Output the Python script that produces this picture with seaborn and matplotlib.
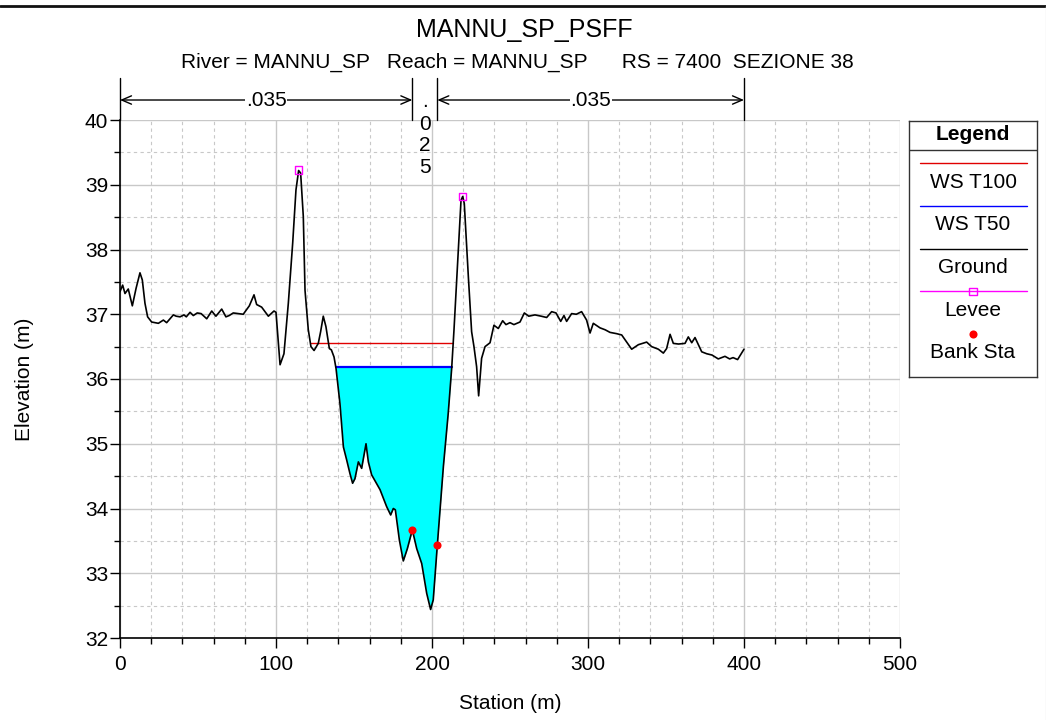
import numpy as np
import pandas as pd
import matplotlib
matplotlib.use("Agg")
import matplotlib.pyplot as plt
import matplotlib.transforms as mtransforms
from matplotlib.lines import Line2D
from matplotlib.ticker import MultipleLocator
import seaborn as sns

# Dati della sezione
station = [0, 1.7, 3.2, 5.3, 7.9, 10.3, 12.8, 14.3, 16.0, 17.7, 20.3, 24.6, 27.8, 29.9,
           34.2, 36.0, 38.5, 41.0, 42.5, 44.9, 47.0, 49.5, 52.0, 55.6, 58.8, 61.5, 65.2,
           67.9, 70.0, 72.6, 76.0, 79.0, 82.9, 85.9, 87.6, 90.8, 95.1, 98.7, 100.0, 102.6,
           105.1, 107.9, 110.7, 112.8, 114.5, 115.8, 117.5, 118.6, 120.7, 122.4, 124.4,
           127.1, 128.6, 130.3, 132.0, 134.2, 135.5, 137.2, 138.5, 141.0, 143.2, 145.3,
           147.4, 149.1, 150.6, 152.8, 154.9, 157.7, 159.2, 161.3, 166.7, 170.9, 173.5,
           175.2, 176.5, 179.1, 181.6, 184.2, 187.4, 190.2, 193.4, 196.6, 199.1, 200.8,
           203.4, 207.3, 210.4, 212.6, 214.1, 216.9, 218.6, 219.7, 220.7, 223.3, 225.4,
           226.9, 228.6, 229.9, 231.8, 234.0, 237.2, 239.7, 242.5, 245.3, 247.4, 250.0,
           252.5, 256.4, 259.2, 262.0, 266.0, 270.0, 273.5, 276.7, 279.5, 282.5, 284.6,
           286.3, 289.5, 292.5, 295.9, 299.1, 301.3, 303.4, 307.7, 311.0, 314.1, 318.4,
           321.6, 328.0, 332.3, 337.6, 340.8, 345.1, 348.3, 350.4, 352.6, 354.7, 358.0,
           362.2, 364.3, 366.5, 368.6, 372.9, 376.1, 379.5, 383.5, 387.8, 390.8, 393.0,
           395.9, 398.5, 400.0]
elevation = [37.35, 37.45, 37.32, 37.39, 37.13, 37.40, 37.64, 37.53, 37.17, 36.96, 36.88,
             36.86, 36.91, 36.87, 36.99, 36.97, 36.96, 36.99, 36.96, 37.03, 36.98, 37.02,
             37.01, 36.93, 37.05, 36.97, 37.08, 36.96, 36.98, 37.02, 37.01, 37.00, 37.13,
             37.30, 37.15, 37.11, 36.97, 37.05, 37.03, 36.22, 36.39, 37.17, 38.10, 38.92,
             39.22, 39.18, 38.51, 37.37, 36.76, 36.50, 36.44, 36.55, 36.73, 36.97, 36.81,
             36.47, 36.45, 36.34, 36.16, 35.62, 34.95, 34.75, 34.54, 34.39, 34.46, 34.72,
             34.62, 35.00, 34.72, 34.52, 34.29, 34.03, 33.90, 34.00, 33.98, 33.51, 33.19,
             33.38, 33.67, 33.38, 33.15, 32.69, 32.44, 32.59, 33.43, 34.65, 35.47, 36.16,
             36.76, 37.99, 38.76, 38.82, 38.71, 37.58, 36.73, 36.50, 36.19, 35.74, 36.32,
             36.50, 36.56, 36.83, 36.78, 36.90, 36.84, 36.87, 36.84, 36.88, 37.02, 36.97,
             36.99, 36.97, 36.95, 37.04, 37.02, 36.89, 36.98, 36.89, 37.01, 37.00, 37.04,
             36.91, 36.71, 36.86, 36.79, 36.76, 36.72, 36.70, 36.68, 36.46, 36.53, 36.57,
             36.50, 36.46, 36.40, 36.47, 36.69, 36.55, 36.54, 36.55, 36.65, 36.56, 36.64,
             36.42, 36.39, 36.37, 36.31, 36.35, 36.31, 36.33, 36.30, 36.40, 36.46]

ws_t100 = 36.56
ws_t100_sta = [122.2, 213.7]
ws_t50 = 36.18
ws_t50_sta = [138.5, 212.6]
levee_sta = [114.5, 219.7]
levee_elev = [39.23, 38.82]
bank_sta = [187.4, 203.4]
bank_elev = [33.67, 33.44]

n_breaks = [0, 187.4, 203.4, 400]
n_values = [".035", ".025", ".035"]

legend_labels = ["WS T100", "WS T50", "Ground", "Levee", "Bank Sta"]

sns.set_style("white")
plt.rcParams['font.family'] = ['Liberation Sans', 'DejaVu Sans']
plt.rcParams['text.color'] = 'black'
plt.rcParams['axes.labelcolor'] = 'black'
plt.rcParams['xtick.color'] = 'black'
plt.rcParams['ytick.color'] = 'black'

ground = pd.DataFrame({"station": station, "elev": elevation})

fig = plt.figure(figsize=(10.46, 7.2), dpi=100)
ax = fig.add_axes([120/1046, 1-638/720, 780/1046, 518/720])

# riempimento acqua T50
ch = ground[(ground.station >= 137) & (ground.station <= 215)]
ax.fill_between(ch.station, ch.elev, ws_t50, where=ch.elev <= ws_t50,
                interpolate=True, color="#00ffff", lw=0, zorder=2)
ax.plot(ws_t100_sta, [ws_t100]*2, color="#e00000", lw=1, zorder=3)
ax.plot(ws_t50_sta, [ws_t50]*2, color="#0000ff", lw=1.6, zorder=3)
sns.lineplot(data=ground, x="station", y="elev", color="black", lw=1.2,
             sort=False, ax=ax, zorder=4)
ax.scatter(levee_sta, levee_elev, marker="s", s=28, facecolors="none",
           edgecolors="#ff00ff", linewidths=1, zorder=5)
ax.scatter(bank_sta, bank_elev, marker="o", s=34, color="#ff0000", lw=0, zorder=5)

ax.set_xlim(0, 500)
ax.set_ylim(32, 40)
ax.xaxis.set_major_locator(MultipleLocator(100))
ax.xaxis.set_minor_locator(MultipleLocator(20))
ax.yaxis.set_major_locator(MultipleLocator(1))
ax.yaxis.set_minor_locator(MultipleLocator(0.5))
ax.set_axisbelow(True)
ax.grid(which="major", color="#c8c8c8", lw=1, ls="-")
ax.grid(which="minor", color="#c8c8c8", lw=0.8, ls=(0, (3, 3)))
ax.tick_params(which="both", bottom=True, left=True, direction="out", color="black",
               labelcolor="black", width=1)
ax.tick_params(which="major", length=7, labelsize=15)
ax.tick_params(which="minor", length=4)
ax.tick_params(axis="y", pad=1.5)
ax.tick_params(axis="x", pad=5)
for s in ["top", "right"]:
    ax.spines[s].set_visible(False)
for s in ["left", "bottom"]:
    ax.spines[s].set_color("black")
    ax.spines[s].set_linewidth(1.2)

ax.set_xlabel("Station (m)", fontsize=15, color="black")
ax.set_ylabel("Elevation (m)", fontsize=15, color="black")
ax.xaxis.set_label_coords(0.5, -0.108)
ax.yaxis.set_label_coords(-0.11, 0.5)

fig.text(0.501, 0.9486, "MANNU_SP_PSFF", fontsize=18, ha="center", va="baseline")
fig.text(0.495, 0.9056, "River = MANNU_SP   Reach = MANNU_SP      RS = 7400  SEZIONE 38",
         fontsize=15, ha="center", va="baseline")

# valori di Manning sopra il grafico
trans = mtransforms.blended_transform_factory(ax.transData, ax.transAxes)
for xv in n_breaks:
    ax.plot([xv, xv], [1.0, 1.081], transform=trans, color="black", lw=1, clip_on=False)
for i, nv in enumerate(n_values):
    x0, x1 = n_breaks[i], n_breaks[i+1]
    xm = (x0 + x1) / 2
    if x1 - x0 > 50:
        ax.annotate("", xy=(x1, 1.0386), xytext=(x0, 1.0386), xycoords=trans,
                    arrowprops=dict(arrowstyle="<->,head_length=0.7,head_width=0.3",
                                    color="black", lw=1, shrinkA=0, shrinkB=0))
        ax.text(xm, 1.0386, nv, transform=trans, fontsize=15, ha="center", va="center",
                bbox=dict(fc="white", ec="none", pad=0.5))
    else:
        ax.text(xm, 1.025, nv[0], transform=trans, fontsize=15, ha="center", va="baseline")
        for j, c in enumerate(nv[1:]):
            ax.text(xm, 0.992 - j*0.0415, c, transform=trans, fontsize=15,
                    ha="center", va="center")

# legenda
lax = fig.add_axes([909/1046, 1-377/720, 128/1046, 256/720])
lax.set_xlim(0, 1)
lax.set_ylim(256, 0)
lax.set_xticks([])
lax.set_yticks([])
for s in lax.spines.values():
    s.set_color("#333333")
    s.set_linewidth(1)
lax.text(0.5, 14, "Legend", fontsize=15, fontweight="bold", ha="center", va="center")
lax.axhline(29, color="#333333", lw=1)
styles = [dict(color="#e00000"), dict(color="#0000ff"), dict(color="black"),
          dict(color="#ff00ff"), None]
for i, lab in enumerate(legend_labels):
    ly = 42 + i*42.75
    st = styles[i]
    if st is not None:
        lax.plot([0.086, 0.92], [ly, ly], lw=1, **st)
    if lab == "Levee":
        lax.scatter([0.5], [ly], marker="s", s=28, facecolors="none",
                    edgecolors="#ff00ff", linewidths=1, zorder=3)
    if lab == "Bank Sta":
        lax.scatter([0.5], [ly], marker="o", s=34, color="#ff0000", lw=0, zorder=3)
    lax.text(0.5, ly + 19, lab, fontsize=15, ha="center", va="center")

fig.add_artist(Line2D([0, 1], [1-6/720]*2, color="#111111", lw=2))
fig.add_artist(Line2D([1045.5/1046]*2, [0, 1-6/720], color="#e6e6e6", lw=1))

fig.savefig("out.png", dpi=100)
